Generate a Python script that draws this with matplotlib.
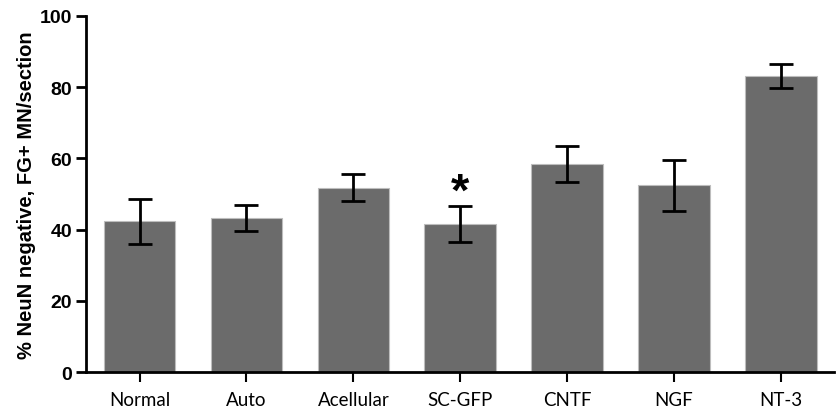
import matplotlib
matplotlib.use("Agg")
import matplotlib.pyplot as plt
import numpy as np

plt.rcParams['font.family'] = ['Liberation Sans', 'DejaVu Sans']

# Data
groups = ["Normal", "Auto", "Acellular", "SC-GFP", "CNTF", "NGF", "NT-3"]
means = [42.3, 43.3, 51.7, 41.5, 58.4, 52.4, 83.2]
errors = [6.4, 3.6, 3.8, 5.0, 5.1, 7.2, 3.3]
star_group = "SC-GFP"

fig = plt.figure(figsize=(8.36, 4.14), dpi=100)
ax = fig.add_axes([0.103, 0.099, 0.895, 0.86])

x = np.arange(len(groups))
ax.bar(x, means, width=0.67, color="#6b6b6b", edgecolor="#bdbdbd", linewidth=0.8, zorder=2)
ax.errorbar(x, means, yerr=errors, fmt="none", ecolor="black", elinewidth=2,
            capsize=8.5, capthick=2, zorder=3)

i = groups.index(star_group)
ax.text(x[i], means[i] + errors[i] - 2.4, "*", ha="center", va="bottom",
        fontsize=34, fontweight="bold")

ax.set_xlim(-0.5, len(groups) - 0.5)
ax.set_ylim(0, 100)
ax.set_yticks([0, 20, 40, 60, 80, 100])
ax.set_xticks(x)
ax.set_xticklabels(groups, fontsize=13.5, family=["Lato", "DejaVu Sans"])
for lab in ax.get_yticklabels():
    lab.set_fontweight("bold")
    lab.set_fontsize(14)
ax.tick_params(axis="y", length=7, width=2, direction="out", pad=3)
ax.tick_params(axis="x", length=7, width=1.5, direction="out", pad=7)

ax.set_ylabel("% NeuN negative, FG+ MN/section", fontsize=14.5, fontweight="bold",
              labelpad=3)

ax.spines["top"].set_visible(False)
ax.spines["right"].set_visible(False)
ax.spines["left"].set_linewidth(2)
ax.spines["bottom"].set_linewidth(2)

fig.savefig("out.png", dpi=100)
